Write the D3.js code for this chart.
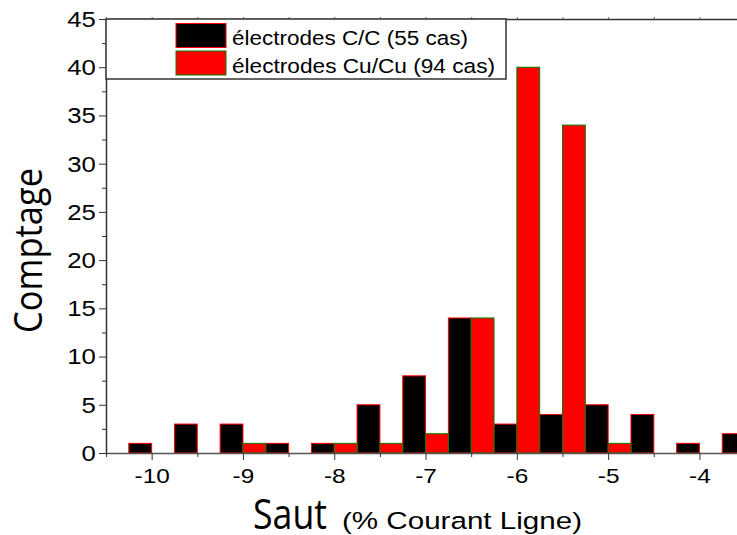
<!DOCTYPE html>
<html lang="fr">
<head>
<meta charset="UTF-8">
<title>Comptage</title>
<script src="https://d3js.org/d3.v7.min.js"></script>
<style>
  body { margin: 0; background: #fff; overflow: hidden; }
  svg { display: block; font-family: "Liberation Sans", Arial, sans-serif; }
</style>
</head>
<body>
<svg id="chart" width="737" height="535"></svg>
<script>
// centres des classes (largeur 0.5)
const centres = [-10, -9.5, -9, -8.5, -8, -7.5, -7, -6.5, -6, -5.5, -5, -4.5, -4, -3.5];
const compteCC = [1, 3, 3, 1, 1, 5, 8, 14, 3, 4, 5, 4, 1, 2];
const compteCuCu = [0, 0, 1, 0, 1, 1, 2, 14, 40, 34, 1, 0, 0, 0];
const series = ["électrodes C/C (55 cas)", "électrodes Cu/Cu (94 cas)"];
const xTicks = [-10, -9, -8, -7, -6, -5, -4];
const xMinor = [-10.5, -9.5, -8.5, -7.5, -6.5, -5.5, -4.5, -3.5];
const yTicks = [0, 5, 10, 15, 20, 25, 30, 35, 40, 45];
const yMinor = [2.5, 7.5, 12.5, 17.5, 22.5, 27.5, 32.5, 37.5, 42.5];

const svg = d3.select("#chart");

const x = d3.scaleLinear().domain([-10.5, -3]).range([106, 106 + 7.5 * 91.3]);
const y = d3.scaleLinear().domain([0, 45]).range([453, 19]);

const fills = ["#000000", "#ff0000"];
const strokes = ["#ff0000", "#008000"];

// barres : C/C à gauche du centre, Cu/Cu à droite
[compteCC, compteCuCu].forEach((vals, s) => {
    const rows = centres.map((c, i) => ({ c: c, v: vals[i] })).filter(d => d.v > 0);
    svg.append("g").selectAll("rect")
        .data(rows)
        .enter().append("rect")
        .attr("x", d => s === 0 ? x(d.c - 0.25) : x(d.c))
        .attr("y", d => y(d.v))
        .attr("width", d => x(d.c + 0.25) - x(d.c))
        .attr("height", d => y(0) - y(d.v))
        .attr("fill", fills[s])
        .attr("stroke", strokes[s])
        .attr("stroke-width", 1);
});

// axe x
const gx = svg.append("g")
    .attr("transform", "translate(0," + y(0) + ")")
    .call(d3.axisBottom(x).tickValues(xTicks).tickSize(7).tickSizeOuter(0).tickPadding(9).tickFormat(d => String(d)));
gx.select(".domain").attr("stroke", "#555").attr("stroke-width", 1.5);
gx.selectAll(".tick line").attr("stroke", "#333");
gx.selectAll("text")
    .attr("font-size", 20)
    .attr("font-family", "Liberation Sans, Arial, sans-serif")
    .attr("fill", "#000")
    .attr("transform", "scale(1.22,1)");

svg.append("g")
    .attr("transform", "translate(0," + y(0) + ")")
    .call(d3.axisBottom(x).tickValues(xMinor).tickSize(4).tickSizeOuter(0).tickFormat(""))
    .call(g => g.select(".domain").remove())
    .selectAll("line").attr("stroke", "#333");

// axe haut (cadre)
const gt = svg.append("g")
    .attr("transform", "translate(0," + y(45) + ")")
    .call(d3.axisTop(x).tickValues(xMinor.concat(xTicks)).tickSize(2).tickSizeOuter(0).tickFormat(""));
gt.select(".domain").attr("stroke", "#333").attr("stroke-width", 1.5);
gt.selectAll("line").attr("stroke", "#666");

// axe y
const gy = svg.append("g")
    .attr("transform", "translate(" + x(-10.5) + ",0)")
    .call(d3.axisLeft(y).tickValues(yTicks).tickSize(7).tickSizeOuter(0).tickPadding(2));
gy.select(".domain").attr("stroke", "#333").attr("stroke-width", 1.5);
gy.selectAll(".tick line").attr("stroke", "#333");
gy.selectAll("text")
    .attr("font-size", 23)
    .attr("font-family", "Liberation Sans, Arial, sans-serif")
    .attr("fill", "#000")
    .attr("transform", "scale(1.12,1)");

svg.append("g")
    .attr("transform", "translate(" + x(-10.5) + ",0)")
    .call(d3.axisLeft(y).tickValues(yMinor).tickSize(4).tickSizeOuter(0).tickFormat(""))
    .call(g => g.select(".domain").remove())
    .selectAll("line").attr("stroke", "#333");

// légende
const leg = svg.append("g");
leg.append("rect")
    .attr("x", 106).attr("y", 19)
    .attr("width", 400).attr("height", 60)
    .attr("fill", "#fff").attr("stroke", "#333").attr("stroke-width", 1.5);

const legLen = [236, 263];
series.forEach((name, i) => {
    leg.append("rect")
        .attr("x", 176).attr("y", 23.5 + i * 27.5)
        .attr("width", 50).attr("height", 24)
        .attr("fill", fills[i]).attr("stroke", strokes[i]).attr("stroke-width", 1);
    leg.append("text")
        .attr("x", 232).attr("y", 44.5 + i * 28)
        .attr("font-size", 20.5)
        .attr("fill", "#000")
        .attr("textLength", legLen[i])
        .attr("lengthAdjust", "spacingAndGlyphs")
        .text(name);
});

// titres
svg.append("text")
    .attr("x", 253).attr("y", 528.5)
    .attr("font-family", "Open Sans, sans-serif")
    .attr("font-size", 42)
    .attr("fill", "#000")
    .attr("textLength", 74)
    .attr("lengthAdjust", "spacingAndGlyphs")
    .text("Saut");

svg.append("text")
    .attr("x", 342).attr("y", 528.5)
    .attr("font-size", 24.5)
    .attr("fill", "#000")
    .attr("textLength", 240)
    .attr("lengthAdjust", "spacingAndGlyphs")
    .text("(% Courant Ligne)");

svg.append("text")
    .attr("transform", "translate(42,250.5) rotate(-90)")
    .attr("text-anchor", "middle")
    .attr("font-family", "Open Sans, sans-serif")
    .attr("font-size", 38)
    .attr("fill", "#000")
    .attr("textLength", 165)
    .attr("lengthAdjust", "spacingAndGlyphs")
    .text("Comptage");
</script>
</body>
</html>
